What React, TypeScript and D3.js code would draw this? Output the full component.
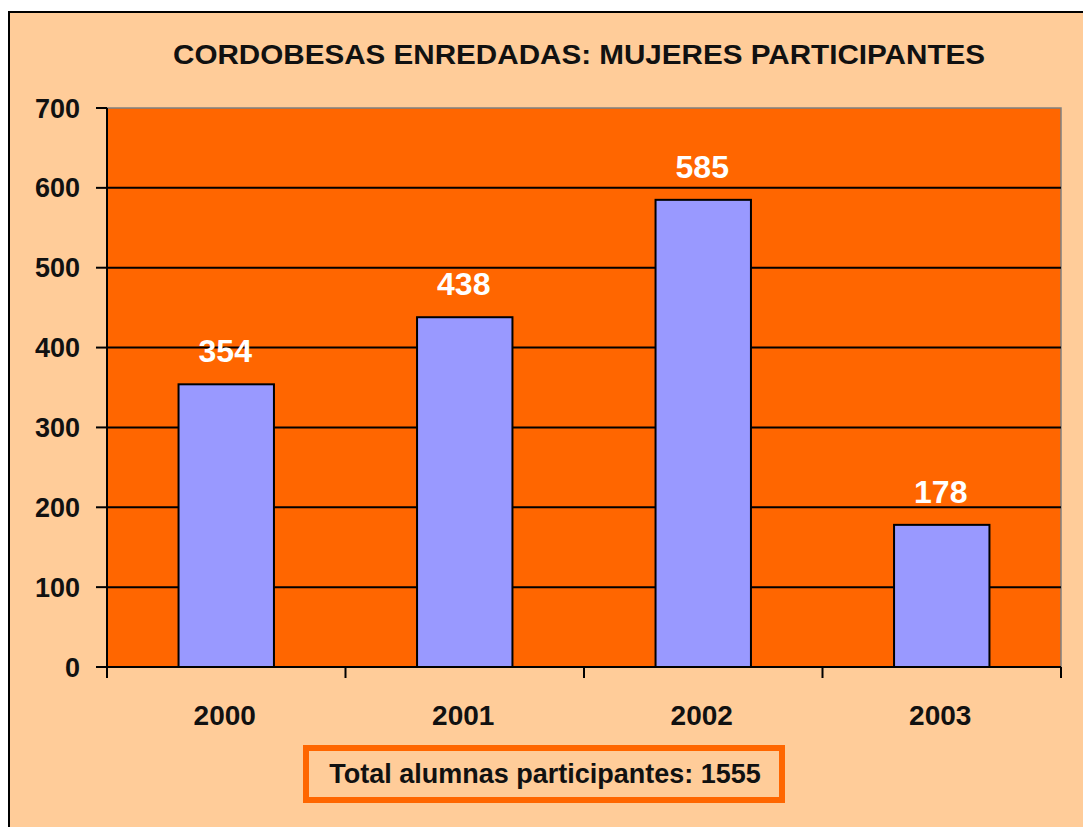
import * as d3 from 'd3'

const W = 1083
const H = 827

const years = ['2000', '2001', '2002', '2003']
const participants = [354, 438, 585, 178]
const yTicks = [0, 100, 200, 300, 400, 500, 600, 700]

const TITLE = 'CORDOBESAS ENREDADAS: MUJERES PARTICIPANTES'
const FONT = 'Arial, "Liberation Sans", Helvetica, sans-serif'

const plot = { left: 107, right: 1061, top: 108, bottom: 667 }

export default function App() {
  const x = d3
    .scaleBand()
    .domain(years)
    .range([plot.left, plot.right])
    .paddingInner(0.6)
    .paddingOuter(0.3)

  const y = d3.scaleLinear().domain([0, 700]).range([plot.bottom, plot.top])

  // category boundaries for the x tick marks
  const step = (plot.right - plot.left) / years.length
  const boundaries = d3.range(years.length + 1).map((i) => plot.left + i * step)

  const total = d3.sum(participants)

  return (
    <svg
      width={W}
      height={H}
      style={{ position: 'absolute', left: 0, top: 0, display: 'block', background: '#fff' }}
      fontFamily={FONT}
    >
      <rect x={9} y={12} width={W + 20} height={H + 20} fill="#FFCC99" stroke="#000" strokeWidth={2} />

      <text
        x={579}
        y={64}
        textAnchor="middle"
        fontSize={27}
        fontWeight="bold"
        fill="#111"
        textLength={812}
        lengthAdjust="spacingAndGlyphs"
      >
        {TITLE}
      </text>

      <rect
        x={plot.left}
        y={plot.top}
        width={plot.right - plot.left}
        height={plot.bottom - plot.top}
        fill="#FF6600"
        stroke="#808080"
        strokeWidth={1.5}
      />

      {yTicks.map((t) => (
        <g key={t}>
          {t > 0 && t < 700 && (
            <line x1={plot.left} x2={plot.right} y1={y(t)} y2={y(t)} stroke="#000" strokeWidth={2} />
          )}
          <line x1={96} x2={plot.left} y1={y(t)} y2={y(t)} stroke="#000" strokeWidth={2} />
          <text x={80} y={y(t) + 9.5} textAnchor="end" fontSize={27} fontWeight="bold" fill="#111">
            {t}
          </text>
        </g>
      ))}

      {years.map((yr, i) => (
        <g key={yr}>
          <rect
            x={x(yr)}
            y={y(participants[i])}
            width={x.bandwidth()}
            height={y(0) - y(participants[i])}
            fill="#9999FF"
            stroke="#000"
            strokeWidth={2}
          />
          <text
            x={x(yr)! + x.bandwidth() / 2 - 1}
            y={y(participants[i]) - 22}
            textAnchor="middle"
            fontSize={32}
            fontWeight="bold"
            fill="#fff"
          >
            {participants[i]}
          </text>
          <text
            x={x(yr)! + x.bandwidth() / 2 - 1.5}
            y={725}
            textAnchor="middle"
            fontSize={28}
            fontWeight="bold"
            fill="#111"
          >
            {yr}
          </text>
        </g>
      ))}

      <line x1={plot.left} x2={plot.left} y1={plot.top} y2={plot.bottom} stroke="#000" strokeWidth={2} />
      <line x1={plot.left} x2={plot.right} y1={plot.bottom} y2={plot.bottom} stroke="#000" strokeWidth={2} />
      {boundaries.map((b, i) => (
        <line key={i} x1={b} x2={b} y1={plot.bottom} y2={678} stroke="#000" strokeWidth={2} />
      ))}

      <rect x={306} y={748} width={476} height={52} fill="none" stroke="#FF6600" strokeWidth={6} />
      <text x={545} y={783} textAnchor="middle" fontSize={27} fontWeight="bold" fill="#111">
        {`Total alumnas participantes: ${total}`}
      </text>
    </svg>
  )
}
